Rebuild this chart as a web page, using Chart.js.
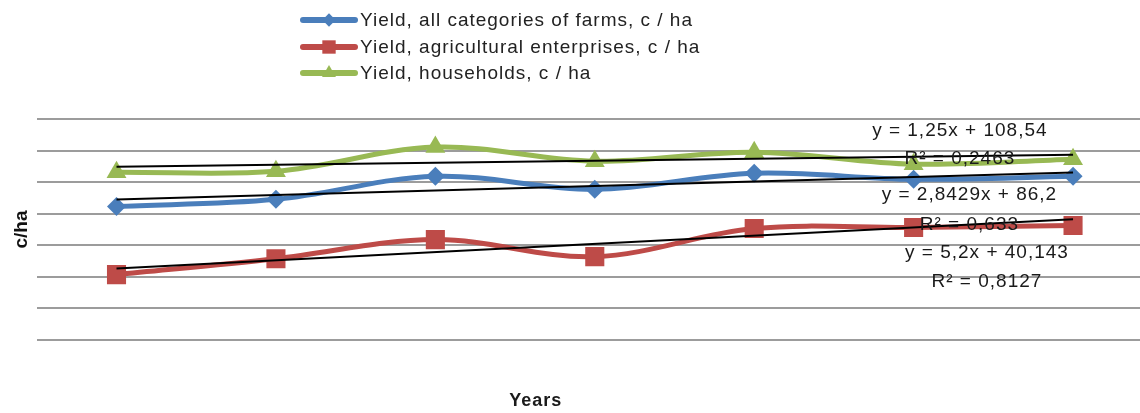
<!DOCTYPE html>
<html>
<head>
<meta charset="utf-8">
<script src="https://cdn.jsdelivr.net/npm/chart.js@4/dist/chart.umd.min.js"></script>
<style>
  body { margin: 0; background: #fff; }
  #wrap { position: relative; width: 1140px; height: 413px; }
  #legend { position: absolute; left: 300px; top: 7px; font-family: "Liberation Sans", Arial, sans-serif; font-size: 19px; letter-spacing: 1px; color: #222; }
  .row { display: flex; align-items: center; height: 26.5px; }
  .row canvas { margin-right: 2px; }
</style>
</head>
<body>
<div id="wrap">
  <canvas id="myChart"></canvas>
  <div id="legend"></div>
</div>
<script>
// years are not labelled in the picture, trend equations use x = 1..7
const yearIndex = [1, 2, 3, 4, 5, 6, 7];
const allFarms = [84.6, 89.1, 103.7, 95.5, 105.6, 101.8, 103.7];
const agriEnterprises = [41.4, 51.5, 63.6, 52.8, 70.6, 71.3, 72.5];
const households = [106.3, 106.9, 122.2, 113.3, 119.0, 111.4, 114.5];

const seriesNames = [
  "Yield, all categories of farms, c / ha",
  "Yield, agricultural enterprises, c / ha",
  "Yield, households, c / ha",
];

// linear trend lines as printed on the chart
const trendSlope = [2.8429, 5.2, 1.25];
const trendIntercept = [86.2, 40.143, 108.54];
const trendText = [
  ["y = 2,8429x + 86,2", "R² = 0,633"],
  ["y = 5,2x + 40,143", "R² = 0,8127"],
  ["y = 1,25x + 108,54", "R² = 0,2463"],
];

const yTicks = [0, 20, 40, 60, 80, 100, 120, 140];

const colors = ["#4A7EBB", "#BE4B48", "#98B954"];
const markers = [
  { style: "rectRot", radius: 9.5 },
  { style: "rect", radius: 13.5 },
  { style: "triangle", radius: 11.5 },
];

function points(vals) {
  return yearIndex.map((x, i) => ({ x: x, y: vals[i] }));
}

function trendPoints(k) {
  const first = yearIndex[0];
  const last = yearIndex[yearIndex.length - 1];
  return [
    { x: first, y: trendSlope[k] * first + trendIntercept[k] },
    { x: last, y: trendSlope[k] * last + trendIntercept[k] },
  ];
}

const seriesValues = [allFarms, agriEnterprises, households];

const datasets = [];
// trend lines first so they sit on top
for (let k = 0; k < 3; k++) {
  datasets.push({
    label: "trend " + k,
    data: trendPoints(k),
    borderColor: "#000",
    borderWidth: 2,
    pointRadius: 0,
    tension: 0,
  });
}
for (let k = 0; k < 3; k++) {
  datasets.push({
    label: seriesNames[k],
    data: points(seriesValues[k]),
    borderColor: colors[k],
    backgroundColor: colors[k],
    borderWidth: 5,
    tension: 0.35,
    pointStyle: markers[k].style,
    pointRadius: markers[k].radius,
    pointBorderWidth: 0,
    pointHoverRadius: markers[k].radius,
  });
}

// equation labels, anchored in data units
const eqLabels = {
  id: "eqLabels",
  afterDatasetsDraw(chart) {
    const { ctx, scales } = chart;
    const spots = [
      { x: 6.35, y: [92.3, 73.2] },
      { x: 6.46, y: [55.4, 36.9] },
      { x: 6.29, y: [132.4, 114.5] },
    ];
    ctx.save();
    ctx.font = '19px "Liberation Sans", Arial, sans-serif';
    ctx.letterSpacing = "1px";
    ctx.fillStyle = "#1a1a1a";
    ctx.textAlign = "center";
    ctx.textBaseline = "middle";
    for (let k = 0; k < 3; k++) {
      const px = scales.x.getPixelForValue(spots[k].x);
      ctx.fillText(trendText[k][0], px, scales.y.getPixelForValue(spots[k].y[0]));
      ctx.fillText(trendText[k][1], px, scales.y.getPixelForValue(spots[k].y[1]));
    }
    // x axis title
    ctx.font = 'bold 18px "Liberation Sans", Arial, sans-serif';
    ctx.fillText("Years", scales.x.getPixelForValue(3.63), chart.height - 12);
    ctx.restore();
  },
};

const myChart = new Chart(document.getElementById("myChart"), {
  type: "line",
  data: { datasets: datasets },
  options: {
    responsive: true,
    maintainAspectRatio: false,
    animation: false,
    layout: { autoPadding: false, padding: { top: 119, bottom: 65, left: 6, right: 0 } },
    plugins: {
      legend: { display: false },
      tooltip: { enabled: false },
    },
    scales: {
      x: {
        type: "linear",
        min: 0.5,
        max: 7.42,
        grid: { display: false },
        border: { display: false },
        ticks: { display: false },
      },
      y: {
        min: 0,
        max: 140,
        afterBuildTicks: (axis) => {
          axis.ticks = yTicks.map((v) => ({ value: v }));
        },
        grid: { color: "#9c9c9c", lineWidth: 2, drawTicks: false },
        border: { display: false },
        ticks: { display: false },
        title: {
          display: true,
          text: "c/ha",
          color: "#111",
          font: { family: '"Liberation Sans", Arial, sans-serif', size: 19, weight: "bold" },
        },
      },
    },
  },
  plugins: [eqLabels],
});

// legend with line + marker samples
const legendBox = document.getElementById("legend");
for (let k = 0; k < 3; k++) {
  const row = document.createElement("div");
  row.className = "row";
  const icon = document.createElement("canvas");
  icon.width = 58;
  icon.height = 26;
  const c = icon.getContext("2d");
  c.strokeStyle = colors[k];
  c.fillStyle = colors[k];
  c.lineWidth = 6;
  c.lineCap = "round";
  c.beginPath();
  c.moveTo(3, 13);
  c.lineTo(55, 13);
  c.stroke();
  Chart.helpers.drawPoint(c, { pointStyle: markers[k].style, radius: markers[k].radius * 0.7, rotation: 0, borderWidth: 0 }, 29, 13);
  const text = document.createElement("span");
  text.innerText = seriesNames[k];
  row.append(icon);
  row.append(text);
  legendBox.append(row);
}
</script>
</body>
</html>
